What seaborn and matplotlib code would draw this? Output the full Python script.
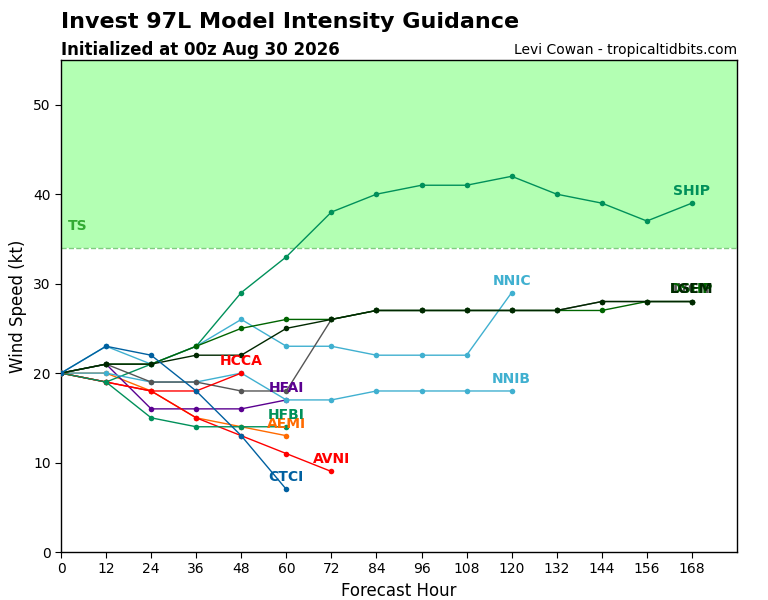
import numpy as np
import pandas as pd
import matplotlib
matplotlib.use("Agg")
import matplotlib.pyplot as plt
import seaborn as sns

hours = [0, 12, 24, 36, 48, 60, 72, 84, 96, 108, 120, 132, 144, 156, 168]

ship = [20, 19, 21, 23, 29, 33, 38, 40, 41, 41, 42, 40, 39, 37, 39]
ivcn = [20, 21, 19, 19, 18, 18, 26, 27, 27, 27, 27, 27, 28, 28, 28]
dshp = [20, 21, 21, 23, 25, 26, 26, 27, 27, 27, 27, 27, 27, 28, 28]
lgem = [20, 21, 21, 22, 22, 25, 26, 27, 27, 27, 27, 27, 28, 28, 28]
nnic = [20, 23, 21, 23, 26, 23, 23, 22, 22, 22, 29]
nnib = [20, 20, 19, 19, 20, 17, 17, 18, 18, 18, 18]
hcca = [20, 19, 18, 18, 20]
hfai = [20, 21, 16, 16, 16, 17]
hfbi = [20, 19, 15, 14, 14, 14]
aemi = [20, 20, 18, 15, 14, 13]
avni = [20, 19, 18, 15, 13, 11, 9]
ctci = [20, 23, 22, 18, 13, 7]

models = ["SHIP", "IVCN", "DSHP", "LGEM", "NNIC", "NNIB", "HCCA", "HFAI",
          "HFBI", "AEMI", "AVNI", "CTCI"]
series = [ship, ivcn, dshp, lgem, nnic, nnib, hcca, hfai, hfbi, aemi, avni, ctci]
colors = ["#00905a", "#555555", "#006400", "#002800", "#40b0d0", "#40b0d0",
          "#ff0000", "#5a0090", "#00905a", "#ff6a00", "#ff0000", "#0060a0"]
# draw order (back to front) roughly as in reference
order = ["AEMI", "HFAI", "SHIP", "NNIC", "NNIB", "IVCN", "DSHP", "LGEM",
         "HCCA", "AVNI", "HFBI", "CTCI"]

rows = []
for m, s in zip(models, series):
    for h, v in zip(hours, s):
        rows.append({"model": m, "hour": h, "vmax": v})
df = pd.DataFrame(rows)

sns.set_style("ticks")
plt.rcParams['font.family'] = ['DejaVu Sans']
plt.rcParams.update({"text.color": "black", "axes.labelcolor": "black",
                     "xtick.color": "black", "ytick.color": "black"})

fig = plt.figure(figsize=(7.68, 6.0), dpi=100)
ax = fig.add_axes([61/768, 1-552/600, (737-61)/768, (552-60)/600])

ax.axhspan(34, 55, color="#b3ffb3", zorder=0, lw=0)
ax.axhline(34, color="#80cc80", ls="--", lw=1, zorder=1)
ax.text(4.5, 36.4, "TS", color="#33aa33", fontsize=10, fontweight="bold",
        ha="center", va="center")

cmap = dict(zip(models, colors))
label_order = ["SHIP", "NNIC", "NNIB", "IVCN", "DSHP", "LGEM", "HCCA", "AVNI",
               "AEMI", "HFBI", "HFAI", "CTCI"]
for i, m in enumerate(order):
    sub = df[df.model == m]
    sns.lineplot(data=sub, x="hour", y="vmax", ax=ax, color=cmap[m],
                 marker="o", markersize=4, markeredgewidth=0, lw=1,
                 zorder=3 + i, legend=False)
for i, m in enumerate(label_order):
    sub = df[df.model == m]
    last = sub.iloc[-1]
    ax.text(last.hour, last.vmax + 1.35, m, color=cmap[m], fontsize=10,
            fontweight="bold", ha="center", va="center", zorder=20 + i)

ax.set_xlim(0, 180)
ax.set_ylim(0, 55)
ax.set_xticks(list(range(0, 169, 12)))
ax.set_yticks([0, 10, 20, 30, 40, 50])
ax.set_xlabel("Forecast Hour", fontsize=12)
ax.set_ylabel("Wind Speed (kt)", fontsize=12)
ax.tick_params(labelsize=10, direction="out", length=4, color="black",
               labelcolor="black")
for sp in ax.spines.values():
    sp.set_visible(True)
    sp.set_color("black")
    sp.set_linewidth(1)

fig.text(61/768, 1-22/600, "Invest 97L Model Intensity Guidance", fontsize=16,
         fontweight="bold", ha="left", va="center", color="black")
fig.text(61/768, 1-50/600, "Initialized at 00z Aug 30 2026", fontsize=12,
         fontweight="bold", ha="left", va="center", color="black")
fig.text(737/768, 1-50/600, "Levi Cowan - tropicaltidbits.com", fontsize=10,
         ha="right", va="center", color="black")

fig.savefig("out.png", dpi=100)
